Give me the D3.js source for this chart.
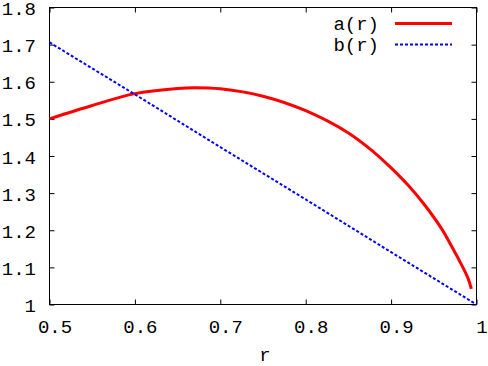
<!DOCTYPE html>
<html><head><meta charset="utf-8">
<script src="https://cdn.jsdelivr.net/npm/d3@7"></script>
<style>body{margin:0;background:#fff}svg{display:block}text{font-family:"Liberation Mono","DejaVu Sans Mono",monospace;font-size:19px;fill:#000}</style>
</head><body>
<script>
const rA = [0.50,0.55,0.60,0.65,0.67,0.70,0.75,0.80,0.85,0.88,0.90,0.92,0.94,0.96,0.97,0.98,0.99,0.994];
const aVals = [1.500,1.536,1.568,1.582,1.584,1.581,1.561,1.522,1.462,1.410,1.368,1.321,1.266,1.201,1.160,1.118,1.071,1.042];
const rB = [0.5,0.6,0.7,0.8,0.9,1.0];
const bVals = [1.706,1.566,1.424,1.283,1.141,1.0];
const xTicks = [0.5,0.6,0.7,0.8,0.9,1.0];
const xTickLabels = ["0.5","0.6","0.7","0.8","0.9","1"];
const yTicks = [1.0,1.1,1.2,1.3,1.4,1.5,1.6,1.7,1.8];
const yTickLabels = ["1","1.1","1.2","1.3","1.4","1.5","1.6","1.7","1.8"];
const seriesNames = ["a(r)","b(r)"];

const W=488,H=366;
const L=49.5,R=476.5,T=7.5,B=304.5;
const svg=d3.select("body").append("svg").attr("width",W).attr("height",H);
const x=d3.scaleLinear().domain([0.5,1]).range([L,R]);
const y=d3.scaleLinear().domain([1,1.8]).range([B,T]);

const tk=5;
const g=svg.append("g").attr("stroke","#000").attr("stroke-width",1).attr("fill","none");
g.append("g").attr("transform",`translate(0,${B})`).call(d3.axisBottom(x).tickValues(xTicks).tickSize(-tk).tickFormat(""));
g.append("g").attr("transform",`translate(0,${T})`).call(d3.axisTop(x).tickValues(xTicks).tickSize(-tk).tickFormat(""));
g.append("g").attr("transform",`translate(${L},0)`).call(d3.axisLeft(y).tickValues(yTicks).tickSize(-tk).tickFormat(""));
g.append("g").attr("transform",`translate(${R},0)`).call(d3.axisRight(y).tickValues(yTicks).tickSize(-tk).tickFormat(""));
svg.selectAll(".domain").remove();
svg.selectAll(".tick line").attr("stroke","#000");
svg.append("rect").attr("x",L).attr("y",T).attr("width",R-L).attr("height",B-T).attr("fill","none").attr("stroke","#000");

svg.selectAll(".xl").data(xTicks).enter().append("text").attr("text-anchor","middle")
 .attr("x",d=>x(d)+5.5).attr("y",333).text((d,i)=>xTickLabels[i]);
svg.selectAll(".yl").data(yTicks).enter().append("text").attr("text-anchor","end")
 .attr("x",36).attr("y",d=>y(d)+7.5).text((d,i)=>yTickLabels[i]);
svg.append("text").attr("text-anchor","middle").attr("x",265).attr("y",361).text("r");

const lineA=d3.line().x((d,i)=>x(rA[i])).y(d=>y(d)).curve(d3.curveCatmullRom.alpha(0.5));
const lineB=d3.line().x((d,i)=>x(rB[i])).y(d=>y(d));
svg.append("path").attr("d",lineA(aVals)).attr("fill","none").attr("stroke","#ff0000").attr("stroke-width",3);
svg.append("path").attr("d",lineB(bVals)).attr("fill","none").attr("stroke","#0000ff").attr("stroke-width",2).attr("stroke-dasharray","3,2");

// legend
const leg=[{c:"#ff0000",w:3,da:null,y:23.5},{c:"#0000ff",w:2,da:"3,2",y:44.5}];
leg.forEach((l,i)=>{
  svg.append("text").attr("text-anchor","end").attr("x",379).attr("y",l.y+6).text(seriesNames[i]);
  const p=svg.append("line").attr("x1",395).attr("x2",452).attr("y1",l.y).attr("y2",l.y).attr("stroke",l.c).attr("stroke-width",l.w);
  if(l.da) p.attr("stroke-dasharray",l.da);
});
</script>
</body></html>
